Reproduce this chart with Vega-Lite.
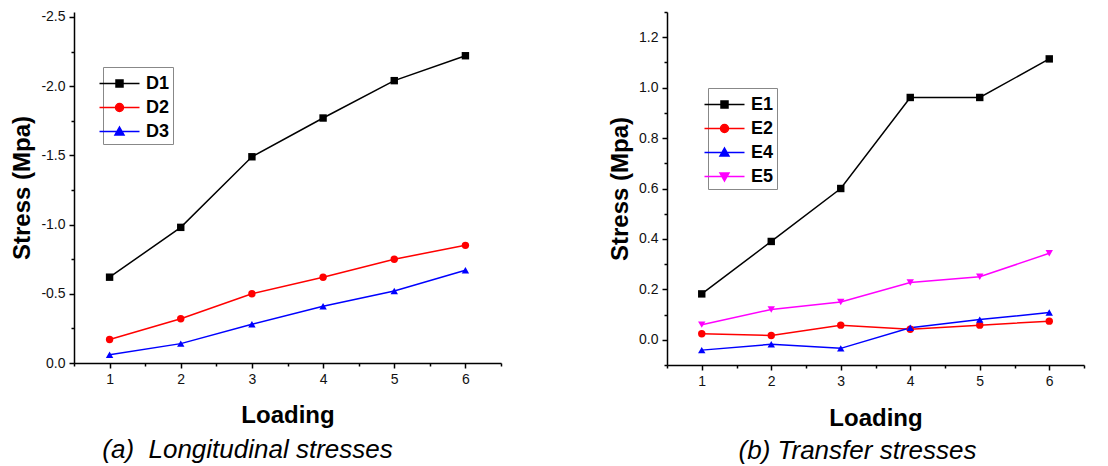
{
  "$schema": "https://vega.github.io/schema/vega-lite/v6.json",
  "background": "white",
  "padding": {"left": 10, "top": 9, "right": 5, "bottom": 0},
  "spacing": 106,
  "config": {
    "view": {"stroke": null},
    "font": "Liberation Sans",
    "axis": {
      "grid": false,
      "domainColor": "black",
      "domainWidth": 1.5,
      "tickColor": "black",
      "tickWidth": 1.5,
      "labelColor": "#111",
      "labelOverlap": false,
      "labelFlush": false,
      "titleFontSize": 24,
      "titleFontWeight": "bold",
      "titleColor": "black"
    },
    "legend": {
      "orient": "none",
      "title": null,
      "strokeColor": "#888",
      "fillColor": "white",
      "padding": 3,
      "symbolSize": 625,
      "symbolStrokeWidth": 1.5,
      "labelFontSize": 18,
      "labelFontWeight": "bold",
      "labelColor": "black",
      "labelOffset": 13,
      "rowPadding": 1
    },
    "title": {"fontSize": 26, "fontStyle": "italic", "fontWeight": "normal", "color": "black", "font": "Liberation Sans"}
  },
  "resolve": {"scale": {"color": "independent"}},
  "hconcat": [
    {
      "width": 427,
      "height": 351,
      "title": {"text": "(a)\u00a0 Longitudinal stresses", "orient": "bottom", "frame": "group", "anchor": "middle", "dx": -40, "dy": 6},
      "data": {"values": [
        {"x": 1, "s": "D1", "v": -0.62}, {"x": 2, "s": "D1", "v": -0.98}, {"x": 3, "s": "D1", "v": -1.49},
        {"x": 4, "s": "D1", "v": -1.77}, {"x": 5, "s": "D1", "v": -2.04}, {"x": 6, "s": "D1", "v": -2.22},
        {"x": 1, "s": "D2", "v": -0.17}, {"x": 2, "s": "D2", "v": -0.32}, {"x": 3, "s": "D2", "v": -0.50},
        {"x": 4, "s": "D2", "v": -0.62}, {"x": 5, "s": "D2", "v": -0.75}, {"x": 6, "s": "D2", "v": -0.85},
        {"x": 1, "s": "D3", "v": -0.06}, {"x": 2, "s": "D3", "v": -0.14}, {"x": 3, "s": "D3", "v": -0.28},
        {"x": 4, "s": "D3", "v": -0.41}, {"x": 5, "s": "D3", "v": -0.52}, {"x": 6, "s": "D3", "v": -0.67}
      ]},
      "encoding": {
        "x": {"field": "x", "type": "quantitative",
          "scale": {"domain": [0.5, 6.5], "nice": false, "zero": false},
          "axis": {"title": "Loading", "values": [0.5, 1, 1.5, 2, 2.5, 3, 3.5, 4, 4.5, 5, 5.5, 6, 6.5],
            "labelExpr": "datum.value % 1 == 0 ? format(datum.value, 'd') : ''",
            "labelFontSize": {"condition": {"test": "datum.value % 1 == 0", "value": 14}, "value": 0},
            "tickSize": {"condition": {"test": "datum.value % 1 == 0", "value": 5}, "value": 3},
            "labelPadding": 4, "titlePadding": 17}},
        "y": {"field": "v", "type": "quantitative",
          "scale": {"domain": [0, -2.536], "nice": false, "zero": false},
          "axis": {"title": "Stress (Mpa)", "values": [0, -0.25, -0.5, -0.75, -1, -1.25, -1.5, -1.75, -2, -2.25, -2.5],
            "labelExpr": "abs(datum.value*2 - round(datum.value*2)) < 1e-6 ? (datum.value < 0 ? '-' : '') + format(abs(datum.value), '.1f') : ''",
            "labelFontSize": {"condition": {"test": "abs(datum.value*2 - round(datum.value*2)) < 1e-6", "value": 14}, "value": 0},
            "tickSize": {"condition": {"test": "abs(datum.value*2 - round(datum.value*2)) < 1e-6", "value": 5}, "value": 3},
            "labelPadding": 4, "titlePadding": 6}},
        "color": {"field": "s", "type": "nominal",
          "scale": {"domain": ["D1", "D2", "D3"], "range": ["black", "red", "blue"]},
          "legend": {"legendX": 29, "legendY": 55,
            "encode": {"symbols": {"update": {
              "shape": {"signal": "datum.value === 'D1' ? 'M-1.6,0H1.6M-0.28,-0.28H0.28V0.28H-0.28Z' : datum.value === 'D2' ? 'M-1.6,0H1.6M0.32,0A0.32,0.32,0,1,1,-0.32,0A0.32,0.32,0,1,1,0.32,0Z' : 'M-1.6,0H1.6M0,-0.36L0.36,0.28L-0.36,0.28Z'"},
              "fill": {"signal": "datum.value === 'D1' ? 'black' : datum.value === 'D2' ? 'red' : 'blue'"},
              "stroke": {"signal": "datum.value === 'D1' ? 'black' : datum.value === 'D2' ? 'red' : 'blue'"},
              "strokeWidth": {"value": 1.5},
              "opacity": {"value": 1}
            }}}}}
      },
      "layer": [
        {"mark": {"type": "line", "strokeWidth": 1.5}},
        {"transform": [{"filter": "datum.s === 'D1'"}], "mark": {"type": "point", "shape": "square", "filled": true, "size": 55, "opacity": 1}},
        {"transform": [{"filter": "datum.s === 'D2'"}], "mark": {"type": "point", "shape": "circle", "filled": true, "size": 55, "opacity": 1}},
        {"transform": [{"filter": "datum.s === 'D3'"}], "mark": {"type": "point", "shape": "triangle-up", "filled": true, "size": 55, "opacity": 1}}
      ]
    },
    {
      "width": 417,
      "height": 353,
      "title": {"text": "(b) Transfer stresses", "orient": "bottom", "frame": "group", "anchor": "middle", "dx": -18, "dy": 4},
      "data": {"values": [
        {"x": 1, "s": "E1", "v": 0.182}, {"x": 2, "s": "E1", "v": 0.39}, {"x": 3, "s": "E1", "v": 0.60},
        {"x": 4, "s": "E1", "v": 0.961}, {"x": 5, "s": "E1", "v": 0.961}, {"x": 6, "s": "E1", "v": 1.114},
        {"x": 1, "s": "E2", "v": 0.024}, {"x": 2, "s": "E2", "v": 0.017}, {"x": 3, "s": "E2", "v": 0.058},
        {"x": 4, "s": "E2", "v": 0.042}, {"x": 5, "s": "E2", "v": 0.058}, {"x": 6, "s": "E2", "v": 0.074},
        {"x": 1, "s": "E4", "v": -0.041}, {"x": 2, "s": "E4", "v": -0.018}, {"x": 3, "s": "E4", "v": -0.034},
        {"x": 4, "s": "E4", "v": 0.048}, {"x": 5, "s": "E4", "v": 0.08}, {"x": 6, "s": "E4", "v": 0.108},
        {"x": 1, "s": "E5", "v": 0.06}, {"x": 2, "s": "E5", "v": 0.12}, {"x": 3, "s": "E5", "v": 0.15},
        {"x": 4, "s": "E5", "v": 0.227}, {"x": 5, "s": "E5", "v": 0.25}, {"x": 6, "s": "E5", "v": 0.343}
      ]},
      "encoding": {
        "x": {"field": "x", "type": "quantitative",
          "scale": {"domain": [0.5, 6.5], "nice": false, "zero": false},
          "axis": {"title": "Loading", "values": [0.5, 1, 1.5, 2, 2.5, 3, 3.5, 4, 4.5, 5, 5.5, 6, 6.5],
            "labelExpr": "datum.value % 1 == 0 ? format(datum.value, 'd') : ''",
            "labelFontSize": {"condition": {"test": "datum.value % 1 == 0", "value": 14}, "value": 0},
            "tickSize": {"condition": {"test": "datum.value % 1 == 0", "value": 5}, "value": 3},
            "labelPadding": 4, "titlePadding": 18}},
        "y": {"field": "v", "type": "quantitative",
          "scale": {"domain": [-0.1, 1.3], "nice": false, "zero": false},
          "axis": {"title": "Stress (Mpa)", "values": [-0.1, 0, 0.1, 0.2, 0.3, 0.4, 0.5, 0.6, 0.7, 0.8, 0.9, 1.0, 1.1, 1.2, 1.3],
            "labelExpr": "abs(datum.value*5 - round(datum.value*5)) < 1e-6 ? format(datum.value, '.1f') : ''",
            "labelFontSize": {"condition": {"test": "abs(datum.value*5 - round(datum.value*5)) < 1e-6", "value": 14}, "value": 0},
            "tickSize": {"condition": {"test": "abs(datum.value*5 - round(datum.value*5)) < 1e-6", "value": 5}, "value": 3},
            "labelPadding": 4, "titlePadding": 6}},
        "color": {"field": "s", "type": "nominal",
          "scale": {"domain": ["E1", "E2", "E4", "E5"], "range": ["black", "red", "blue", "magenta"]},
          "legend": {"legendX": 41, "legendY": 76,
            "encode": {"symbols": {"update": {
              "shape": {"signal": "datum.value === 'E1' ? 'M-1.6,0H1.6M-0.28,-0.28H0.28V0.28H-0.28Z' : datum.value === 'E2' ? 'M-1.6,0H1.6M0.32,0A0.32,0.32,0,1,1,-0.32,0A0.32,0.32,0,1,1,0.32,0Z' : datum.value === 'E4' ? 'M-1.6,0H1.6M0,-0.36L0.36,0.28L-0.36,0.28Z' : 'M-1.6,0H1.6M0,0.36L0.36,-0.28L-0.36,-0.28Z'"},
              "fill": {"signal": "datum.value === 'E1' ? 'black' : datum.value === 'E2' ? 'red' : datum.value === 'E4' ? 'blue' : 'magenta'"},
              "stroke": {"signal": "datum.value === 'E1' ? 'black' : datum.value === 'E2' ? 'red' : datum.value === 'E4' ? 'blue' : 'magenta'"},
              "strokeWidth": {"value": 1.5},
              "opacity": {"value": 1}
            }}}}}
      },
      "layer": [
        {"mark": {"type": "line", "strokeWidth": 1.5}},
        {"transform": [{"filter": "datum.s === 'E1'"}], "mark": {"type": "point", "shape": "square", "filled": true, "size": 55, "opacity": 1}},
        {"transform": [{"filter": "datum.s === 'E2'"}], "mark": {"type": "point", "shape": "circle", "filled": true, "size": 55, "opacity": 1}},
        {"transform": [{"filter": "datum.s === 'E4'"}], "mark": {"type": "point", "shape": "triangle-up", "filled": true, "size": 55, "opacity": 1}},
        {"transform": [{"filter": "datum.s === 'E5'"}], "mark": {"type": "point", "shape": "triangle-down", "filled": true, "size": 55, "opacity": 1}}
      ]
    }
  ]
}
